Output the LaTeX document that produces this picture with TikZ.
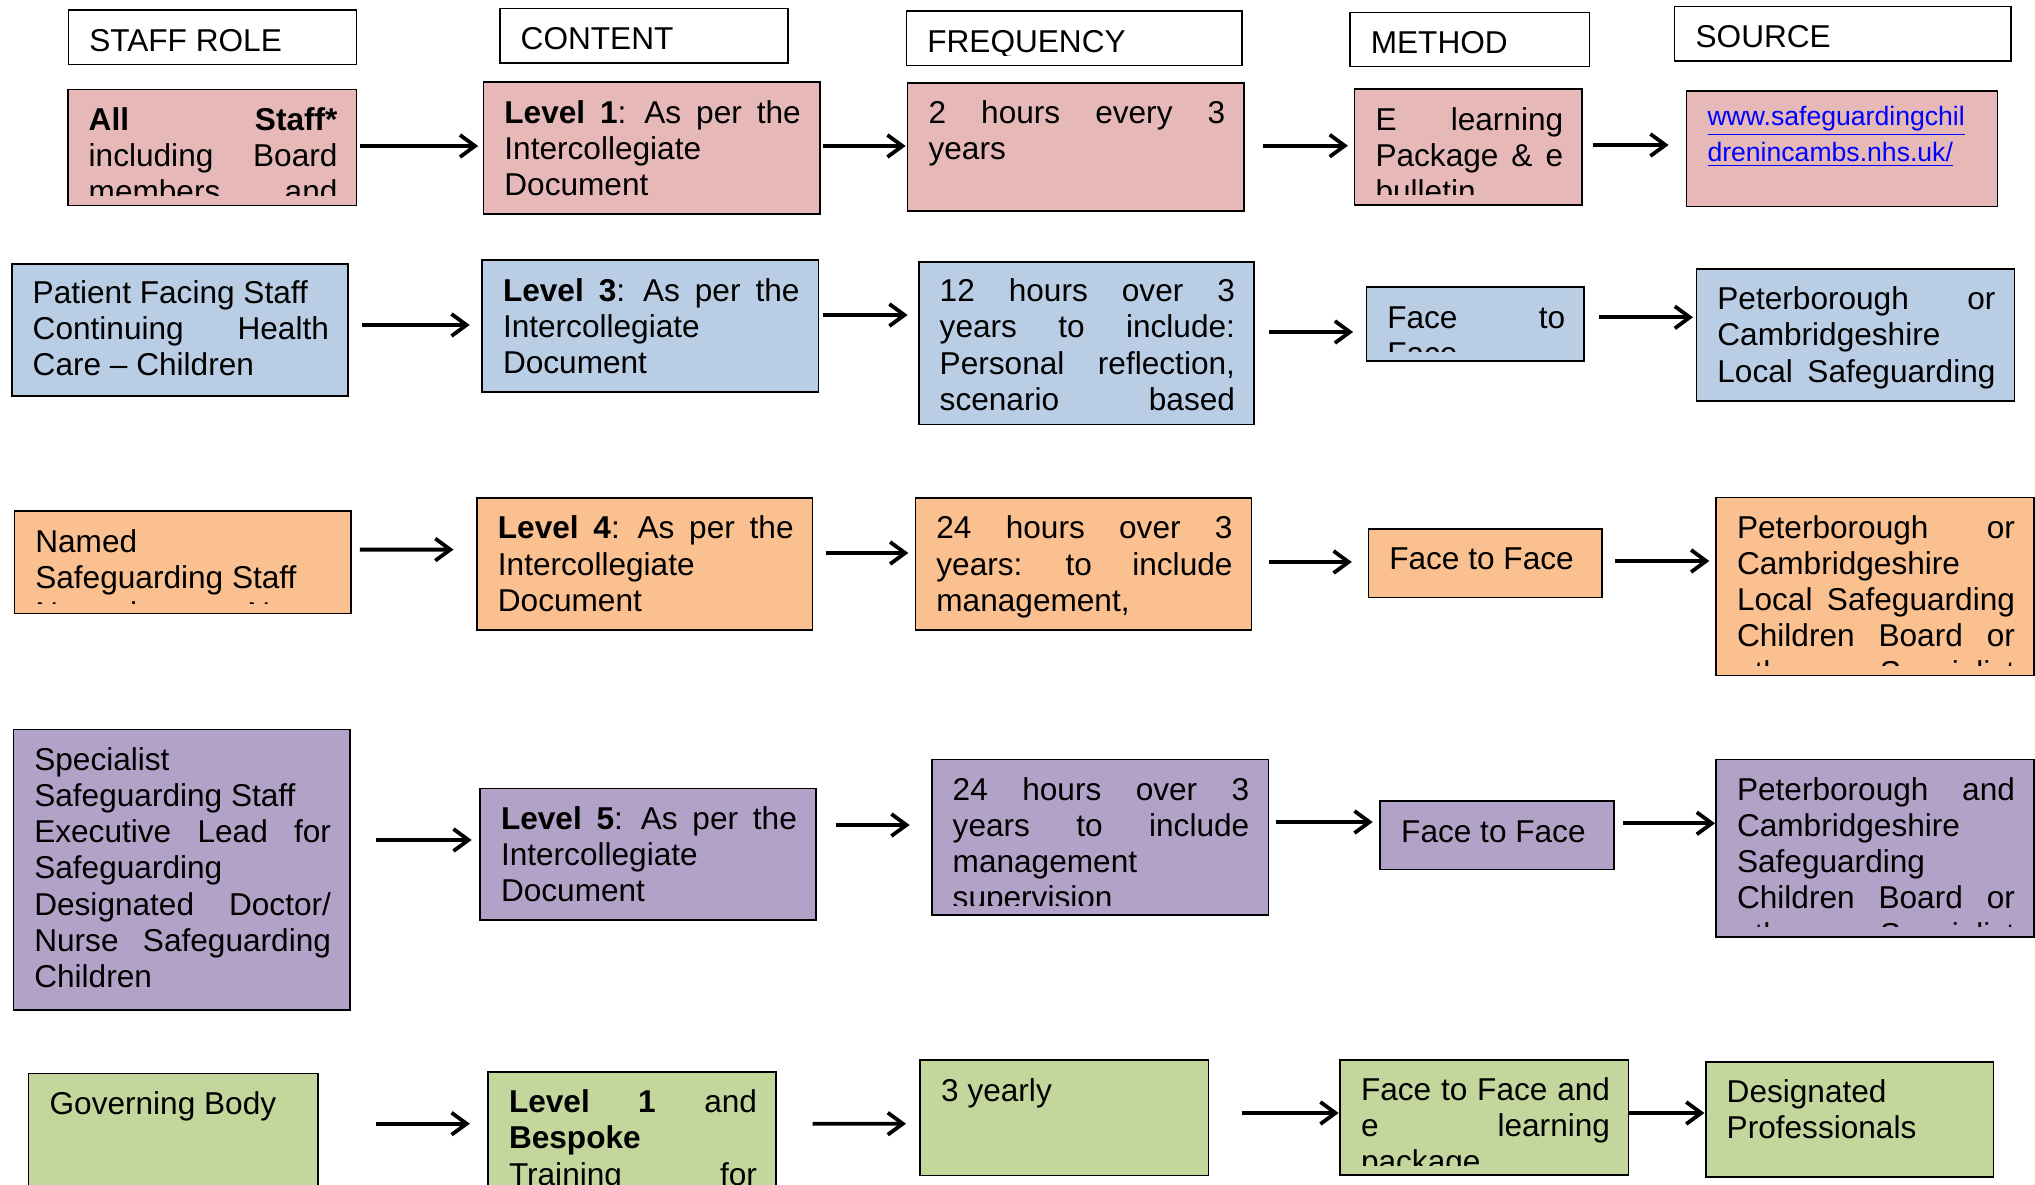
\documentclass[tikz,border=0pt]{standalone}
\usepackage{fontspec}
\setmainfont{Liberation Sans}
\usetikzlibrary{fit,arrows.meta}
\definecolor{pinkF}{HTML}{E6B9B8}
\definecolor{blueF}{HTML}{B9CDE5}
\definecolor{orangeF}{HTML}{FAC090}
\definecolor{purpleF}{HTML}{B3A2C7}
\definecolor{greenF}{HTML}{C3D69B}
\newcommand\mybody{\fontsize{15.8}{18.1}\selectfont}
\newcommand\mylink{\fontsize{13.3}{15.35}\selectfont\color{blue}}
\tikzset{
  box/.style={draw=black, line width=0.8pt, inner sep=0pt, outer sep=0pt},
  hdr/.style={box, fill=white},
  pinkbox/.style={box, fill=pinkF},
  bluebox/.style={box, fill=blueF},
  orangebox/.style={box, fill=orangeF},
  purplebox/.style={box, fill=purpleF},
  greenbox/.style={box, fill=greenF},
  txt/.style={anchor=north west, inner sep=0pt, outer sep=0pt, align=left, font=\mybody},
  arr/.style={line width=1.9pt, -{Straight Barb[length=7.5pt,width=11pt]}},
}
% #1 baseline offset (px), #2 name, #3 style, #4 corner, #5 corner, #6 text width (pt), #7 text
\newcommand\tb[7][41]{%
  \node[#3, fit={(#4) (#5)}] (#2) {};
  \begin{scope}
    \clip ([shift={(0,-10)}]#2.south west) rectangle (#2.north east);
    \node[txt, text width=#6pt] (#2t) at ([shift={(21,{#1-26})}]#2.north west) {\noindent\spaceskip=0pt\xspaceskip=0pt\rule{0pt}{13pt}#7};
  \end{scope}%
}
\begin{document}
\begin{tikzpicture}[x=0.5pt,y=-0.5pt]
\useasboundingbox (0,0) rectangle (2035,1184);
\clip (0,0) rectangle (2035,1184);
\fill[white] (0,0) rectangle (2035,1184);

% headers
\tb{h1}{hdr}{68.3,10}{356.5,64.3}{124}{STAFF ROLE}
\tb{h2}{hdr}{499.7,8.3}{787.9,62.7}{124}{CONTENT}
\tb{h3}{hdr}{906.3,11}{1242.2,65.3}{148}{FREQUENCY}
\tb{h4}{hdr}{1349.8,12.3}{1589.4,66.3}{100}{METHOD}
\tb{h5}{hdr}{1674.6,6.3}{2011.2,60.7}{148}{SOURCE}

% row 1
\tb{s1}{pinkbox}{67.7,89.3}{356.5,205.3}{124.4}{\textbf{All} \hfill \textbf{Staff*}\\including \hfill Board\\members \hfill and}
\tb{c1}{pinkbox}{483.4,82}{819.8,213.7}{148.2}{\textbf{Level} \hfill \textbf{1}: \hfill As \hfill per \hfill the\\Intercollegiate\\Document}
\tb{f1}{pinkbox}{907.6,82.7}{1244.2,211}{148.3}{2 \hfill hours \hfill every \hfill 3\\years}
\tb{m1}{pinkbox}{1354.5,89}{1582.2,204.7}{93.85}{E \hfill learning\\Package \hfill \& \hfill e\\bulletin}
\tb[35]{r1}{pinkbox}{1686.5,90.7}{1997.4,206.3}{135.45}{\mylink\underline{www.safeguardingchil}\\\underline{drenincambs.nhs.uk/}}

% row 2
\tb[39]{s2}{bluebox}{11.7,264}{348,396}{148.15}{Patient Facing Staff\\Continuing \hfill Health\\Care – Children}
\tb{c2}{bluebox}{482,260}{818.5,392}{148.25}{\textbf{Level} \hfill \textbf{3}: \hfill As \hfill per \hfill the\\Intercollegiate\\Document}
\tb[40]{f2}{bluebox}{918.7,261.7}{1254,424.4}{147.65}{12 \hfill hours \hfill over \hfill 3\\years \hfill to \hfill include:\\Personal \hfill reflection,\\scenario \hfill based}
\tb[42]{m2}{bluebox}{1366.3,286.7}{1584.2,361}{88.95}{Face \hfill to\\Face}
\tb{r2}{bluebox}{1696.4,268.7}{2014.5,401}{139.05}{Peterborough \hfill or\\Cambridgeshire\\Local \hfill Safeguarding}

% row 3
\tb{s3}{orangebox}{14.3,511}{350.7,613.6}{148.2}{Named\\Safeguarding Staff\\Named \hfill Nurse}
\tb{c3}{orangebox}{476.9,497.9}{812.6,630.2}{147.85}{\textbf{Level} \hfill \textbf{4}: \hfill As \hfill per \hfill the\\Intercollegiate\\Document}
\tb{f3}{orangebox}{915.4,497.9}{1251.5,630.2}{148.05}{24 \hfill hours \hfill over \hfill 3\\years: \hfill to \hfill include\\management,}
\tb{m3}{orangebox}{1368.3,528.9}{1602,597.4}{96.85}{Face to Face}
\tb{r3}{orangebox}{1716,497.3}{2034,675.3}{139}{Peterborough \hfill or\\Cambridgeshire\\Local \hfill Safeguarding\\Children \hfill Board \hfill or\\other \hfill Specialist}

% row 4
\tb{s4}{purplebox}{13.3,729.3}{350,1009.7}{148.35}{Specialist\\Safeguarding Staff\\Executive \hfill Lead \hfill for\\Safeguarding\\Designated \hfill Doctor/\\Nurse \hfill Safeguarding\\Children}
\tb{c4}{purplebox}{480,788.3}{815.9,920}{147.95}{\textbf{Level} \hfill \textbf{5}: \hfill As \hfill per \hfill the\\Intercollegiate\\Document}
\tb{f4}{purplebox}{931.7,759.3}{1268.3,915}{148.3}{24 \hfill hours \hfill over \hfill 3\\years \hfill to \hfill include\\management\\supervision}
\tb{m4}{purplebox}{1380.2,801}{1613.9,869.5}{96.85}{Face to Face}
\tb{r4}{purplebox}{1716,759.3}{2034,936.7}{139}{Peterborough \hfill and\\Cambridgeshire\\Safeguarding\\Children \hfill Board \hfill or\\other \hfill Specialist}

% row 5
\tb{s5}{greenbox}{28.6,1073.3}{318,1240}{124.7}{Governing Body}
\tb{c5}{greenbox}{488,1071.7}{776,1240}{124}{\textbf{Level} \hfill \textbf{1} \hfill and\\\textbf{Bespoke}\\Training \hfill for}
\tb[42]{f5}{greenbox}{920.2,1059.7}{1208.3,1175.3}{124.05}{3 yearly}
\tb[40.5]{m5}{greenbox}{1340,1060}{1628.3,1175}{124.5}{Face \hfill to \hfill Face \hfill and\\e \hfill learning\\package}
\tb[40.5]{r5}{greenbox}{1705.7,1062}{1993.5,1177}{123.4}{Designated\\Professionals}

% arrows row 1
\draw[arr] ([shift={(3.3,-1.3)}]s1.east) -- ([shift={(-5.2,-1.85)}]c1.west);
\draw[arr] ([shift={(3.2,-1.85)}]c1.east) -- ([shift={(-2,-0.85)}]f1.west);
\draw[arr] ([shift={(18.5,-1.15)}]f1.east) -- ([shift={(-6.6,-1.15)}]m1.west);
\draw[arr] ([shift={(10.5,-1.85)}]m1.east) -- ([shift={(-17.9,-3.5)}]r1.west);
% arrows row 2
\draw[arr] ([shift={(14.4,-5)}]s2.east) -- ([shift={(-12.3,-1)}]c2.west);
\draw[arr] ([shift={(4.5,-11)}]c2.east) -- ([shift={(-11.1,-28.05)}]f2.west);
\draw[arr] ([shift={(14.6,-11.05)}]f2.east) -- ([shift={(-13.2,8.15)}]m2.west);
\draw[arr] ([shift={(14.5,-6.55)}]m2.east) -- ([shift={(-3.4,-17.55)}]r2.west);
% arrows row 3
\draw[arr] ([shift={(9.1,-12.7)}]s3.east) -- ([shift={(-23.4,-14.45)}]c3.west);
\draw[arr] ([shift={(13.7,-11.05)}]c3.east) -- ([shift={(-7.1,-11.05)}]f3.west);
\draw[arr] ([shift={(17.1,-2.05)}]f3.east) -- ([shift={(-16.5,-1.15)}]m3.west);
\draw[arr] ([shift={(13,-2.15)}]m3.east) -- ([shift={(-6.7,-25.3)}]r3.west);
% arrows row 4
\draw[arr] ([shift={(26,-29.5)}]s4.east) -- ([shift={(-8.3,-14.15)}]c4.west);
\draw[arr] ([shift={(20.1,-29.15)}]c4.east) -- ([shift={(-22.1,-12.15)}]f4.west);
\draw[arr] ([shift={(7.7,-15.15)}]f4.east) -- ([shift={(-7.5,-13.25)}]m4.west);
\draw[arr] ([shift={(8.8,-11.95)}]m4.east) -- ([shift={(-1,-24.7)}]r4.west);
% arrows row 5
\draw[arr] ([shift={(58.4,-32.95)}]s5.east) -- ([shift={(-18.2,-32.15)}]c5.west);
\draw[arr] ([shift={(36.5,-32.15)}]c5.east) -- ([shift={(-14.2,6.2)}]f5.west);
\draw[arr] ([shift={(33.7,-4.5)}]f5.east) -- ([shift={(-1.4,-4.5)}]m5.west);
\draw[arr] ([shift={(0,-4.5)}]m5.east) -- ([shift={(-1.3,-6.5)}]r5.west);
\end{tikzpicture}
\end{document}
